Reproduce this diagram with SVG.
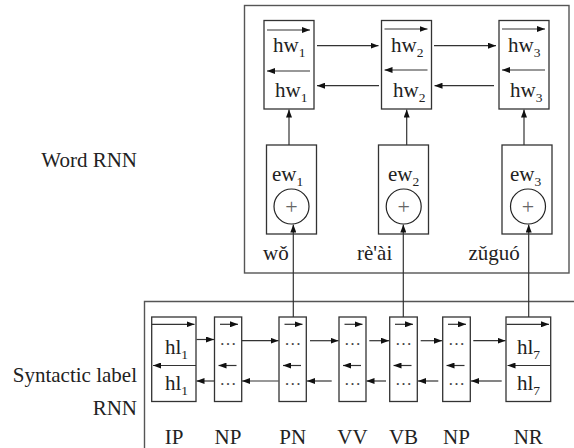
<svg xmlns="http://www.w3.org/2000/svg" width="574" height="448" viewBox="0 0 574 448">
<style>
text{font-family:"Liberation Serif","Times New Roman",Tinos,"DejaVu Serif",serif;fill:#222;font-size:21px}
.sub{font-size:13.5px}
.box{fill:#fff;stroke:#333;stroke-width:1.3}
.frame{fill:none;stroke:#555;stroke-width:1.4}
.a{stroke:#333;stroke-width:1.2;fill:none;marker-end:url(#ah)}
.c{fill:#fff;stroke:#222;stroke-width:1.2}
.plus{fill:#666;font-size:22px}
.dots{font-size:17px;fill:#444}
</style>
<defs>
<marker id="ah" viewBox="0 0 8 6" refX="8" refY="3" markerWidth="8" markerHeight="6" markerUnits="userSpaceOnUse" orient="auto">
<path d="M0,0 L8,3 L0,6 z" fill="#111"/>
</marker>
</defs>

<!-- frames -->
<rect class="frame" x="244.5" y="5.5" width="324.5" height="267.5"/>
<path class="frame" d="M580,301.5 H144.5 V455"/>

<!-- side labels -->
<text x="137" y="166.5" text-anchor="end">Word RNN</text>
<text x="137" y="381.5" text-anchor="end">Syntactic label</text>
<text x="137" y="415" text-anchor="end">RNN</text>

<!-- hw nodes -->
<g id="hw1">
<rect class="box" x="264" y="20.5" width="50" height="88.5"/>
<path class="a" d="M267,30 H310"/>
<path class="a" d="M310,71 H267"/>
<text x="273" y="51.5">hw<tspan class="sub" dy="5">1</tspan></text>
<text x="275" y="97">hw<tspan class="sub" dy="5">1</tspan></text>
</g>
<g id="hw2">
<rect class="box" x="381.5" y="20.5" width="50" height="88.5"/>
<path class="a" d="M384.5,29 H427.5"/>
<path class="a" d="M427.5,70 H384.5"/>
<text x="391" y="51.5">hw<tspan class="sub" dy="5">2</tspan></text>
<text x="393" y="97">hw<tspan class="sub" dy="5">2</tspan></text>
</g>
<g id="hw3">
<rect class="box" x="499" y="20.5" width="50" height="88.5"/>
<path class="a" d="M502,29 H545"/>
<path class="a" d="M545,70 H502"/>
<text x="508" y="51.5">hw<tspan class="sub" dy="5">3</tspan></text>
<text x="510" y="97">hw<tspan class="sub" dy="5">3</tspan></text>
</g>

<!-- ew nodes -->
<g id="ew1">
<rect class="box" x="266.5" y="145" width="50" height="89"/>
<text x="272" y="180.5">ew<tspan class="sub" dy="5">1</tspan></text>
<circle class="c" cx="291.5" cy="206.5" r="17.5"/>
<text class="plus" x="291.5" y="213.5" text-anchor="middle">+</text>
</g>
<g id="ew2">
<rect class="box" x="378.5" y="145" width="50" height="89"/>
<text x="388" y="180.5">ew<tspan class="sub" dy="5">2</tspan></text>
<circle class="c" cx="403.7" cy="206.5" r="17.5"/>
<text class="plus" x="403.7" y="213.5" text-anchor="middle">+</text>
</g>
<g id="ew3">
<rect class="box" x="502" y="145" width="50" height="89"/>
<text x="510" y="180.5">ew<tspan class="sub" dy="5">3</tspan></text>
<circle class="c" cx="528" cy="206.5" r="17.5"/>
<text class="plus" x="528" y="213.5" text-anchor="middle">+</text>
</g>

<!-- words -->
<text x="263" y="260">wǒ</text>
<text x="357" y="260">rè'ài</text>
<text x="468.5" y="260">zǔguó</text>

<!-- syntactic nodes -->
<g id="s1">
<rect class="box" x="151.7" y="317" width="44.3" height="84.5"/>
<path class="a" d="M152,324.3 H194.5"/>
<path class="a" d="M196,365.5 H153"/>
<text x="165" y="353.5">hl<tspan class="sub" dy="5">1</tspan></text>
<text x="165" y="390">hl<tspan class="sub" dy="5">1</tspan></text>
</g>
<g id="s2">
<rect class="box" x="214.5" y="317" width="27.2" height="84.5"/>
<path class="a" d="M220,324.3 H238"/>
<path class="a" d="M236.5,365.5 H218.5"/>
<text class="dots" x="228.1" y="345" text-anchor="middle">…</text>
<text class="dots" x="228.1" y="384.5" text-anchor="middle">…</text>
</g>
<g id="s3">
<rect class="box" x="279" y="317" width="27.3" height="84.5"/>
<path class="a" d="M284.5,324.3 H302.5"/>
<path class="a" d="M301,365.5 H283"/>
<text class="dots" x="292.7" y="345" text-anchor="middle">…</text>
<text class="dots" x="292.7" y="384.5" text-anchor="middle">…</text>
</g>
<g id="s4">
<rect class="box" x="339" y="317" width="27" height="84.5"/>
<path class="a" d="M344.5,324.3 H362.5"/>
<path class="a" d="M361,365.5 H343"/>
<text class="dots" x="352.5" y="345" text-anchor="middle">…</text>
<text class="dots" x="352.5" y="384.5" text-anchor="middle">…</text>
</g>
<g id="s5">
<rect class="box" x="389.7" y="317" width="27.6" height="84.5"/>
<path class="a" d="M395,324.3 H413"/>
<path class="a" d="M411.5,365.5 H393.5"/>
<text class="dots" x="403.5" y="345" text-anchor="middle">…</text>
<text class="dots" x="403.5" y="384.5" text-anchor="middle">…</text>
</g>
<g id="s6">
<rect class="box" x="442.7" y="317" width="27.6" height="84.5"/>
<path class="a" d="M448,324.3 H466"/>
<path class="a" d="M464.5,365.5 H446.5"/>
<text class="dots" x="456.5" y="345" text-anchor="middle">…</text>
<text class="dots" x="456.5" y="384.5" text-anchor="middle">…</text>
</g>
<g id="s7">
<rect class="box" x="506" y="317" width="44.7" height="84.5"/>
<path class="a" d="M506.5,324.3 H549"/>
<path class="a" d="M550.5,365.5 H507.5"/>
<text x="517" y="353.5">hl<tspan class="sub" dy="5">7</tspan></text>
<text x="517" y="390">hl<tspan class="sub" dy="5">7</tspan></text>
</g>

<!-- tag labels -->
<g id="tags">
<text x="174" y="443.5" text-anchor="middle">IP</text>
<text x="228" y="443.5" text-anchor="middle">NP</text>
<text x="292.7" y="443.5" text-anchor="middle">PN</text>
<text x="352.5" y="443.5" text-anchor="middle">VV</text>
<text x="403.5" y="443.5" text-anchor="middle">VB</text>
<text x="456.5" y="443.5" text-anchor="middle">NP</text>
<text x="528.3" y="443.5" text-anchor="middle">NR</text>
</g>

<!-- connectors -->
<g id="connectors">
<path class="a" d="M317,45.7 H378.5"/>
<path class="a" d="M434,45.7 H496"/>
<path class="a" d="M379,85.7 H317"/>
<path class="a" d="M494,85.7 H434.5"/>
<path class="a" d="M289,145 V109.5"/>
<path class="a" d="M406.7,145 V109.5"/>
<path class="a" d="M524,145 V109.5"/>
<path class="a" d="M293.3,317 V224.5"/>
<path class="a" d="M403.3,317 V224.5"/>
<path class="a" d="M528.7,317 V224.5"/>
<path class="a" d="M196.5,339.5 H214"/>
<path class="a" d="M242,340.7 H278.5"/>
<path class="a" d="M310,340.7 H338.5"/>
<path class="a" d="M369.3,340.7 H389"/>
<path class="a" d="M420.7,340.7 H442"/>
<path class="a" d="M473.3,340.7 H505.5"/>
<path class="a" d="M214,381 H196.5"/>
<path class="a" d="M278.5,381 H242"/>
<path class="a" d="M331.7,381 H307"/>
<path class="a" d="M386,381 H366.5"/>
<path class="a" d="M438.3,381 H418"/>
<path class="a" d="M501.7,381 H471"/>
</g>
</svg>
